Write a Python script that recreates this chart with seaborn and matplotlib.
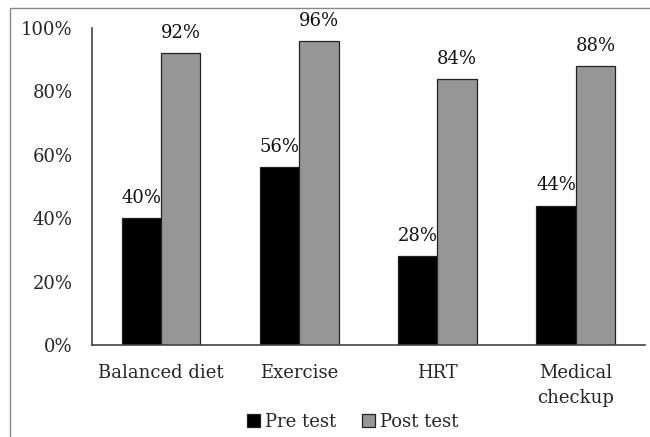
import matplotlib
matplotlib.use("Agg")
import matplotlib.pyplot as plt
import seaborn as sns
import pandas as pd
from matplotlib.patches import Rectangle

categories = ["Balanced diet", "Exercise", "HRT", "Medical\ncheckup"]
pre_test = [40, 56, 28, 44]
post_test = [92, 96, 84, 88]
series = ["Pre test", "Post test"]
yticks = [0, 20, 40, 60, 80, 100]

df = pd.DataFrame({
    "category": categories * 2,
    "value": pre_test + post_test,
    "series": [series[0]] * 4 + [series[1]] * 4,
})

sns.set_style("white")
plt.rcParams["font.family"] = ["DejaVu Serif"]
FS = 13

fig = plt.figure(figsize=(6.5, 4.37), dpi=100)
ax = fig.add_axes([0.1415, 0.2105, 0.8505, 0.7255])

sns.barplot(data=df, x="category", y="value", hue="series",
            palette=["#000000", "#969696"], width=0.57,
            edgecolor="#222222", linewidth=0.9, ax=ax)

for cont in ax.containers:
    ax.bar_label(cont, labels=[f"{v:.0f}%" for v in cont.datavalues],
                 padding=8, fontsize=FS, color="#111111")

ax.set_ylim(0, 100)
ax.set_xlim(-0.5, 3.5)
ax.set_yticks(yticks)
ax.set_yticklabels([f"{t}%" for t in yticks], fontsize=FS)
ax.set_xticks([0, 1, 2, 3])
ax.set_xticklabels(categories, fontsize=FS, linespacing=1.5)
ax.set_xlabel("")
ax.set_ylabel("")

# category boundary ticks on the x axis, value ticks on the y axis
ax.set_xticks([-0.5, 0.5, 1.5, 2.5, 3.5], minor=True)
ax.tick_params(axis="x", which="major", length=0, pad=14)
ax.tick_params(axis="x", which="minor", length=6, width=1, color="#444444",
               direction="out")
ax.tick_params(axis="y", length=6, width=1, color="#444444", direction="out",
               pad=8)

for s in ["top", "right"]:
    ax.spines[s].set_visible(False)
for s in ["left", "bottom"]:
    ax.spines[s].set_color("#444444")
    ax.spines[s].set_linewidth(1.2)

leg = ax.legend(loc="center", bbox_to_anchor=(0.472, -0.243), ncol=2,
                frameon=False, fontsize=FS, handlelength=0.7, handleheight=0.7,
                handletextpad=0.3, columnspacing=1.4)

# outer frame around the whole figure
fig.patches.append(Rectangle((10 / 650, -0.01), 1.0, 1 - 8 / 437 + 0.01,
                             transform=fig.transFigure, fill=False,
                             edgecolor="#888888", linewidth=1.0))

fig.savefig("out.png", dpi=100)
